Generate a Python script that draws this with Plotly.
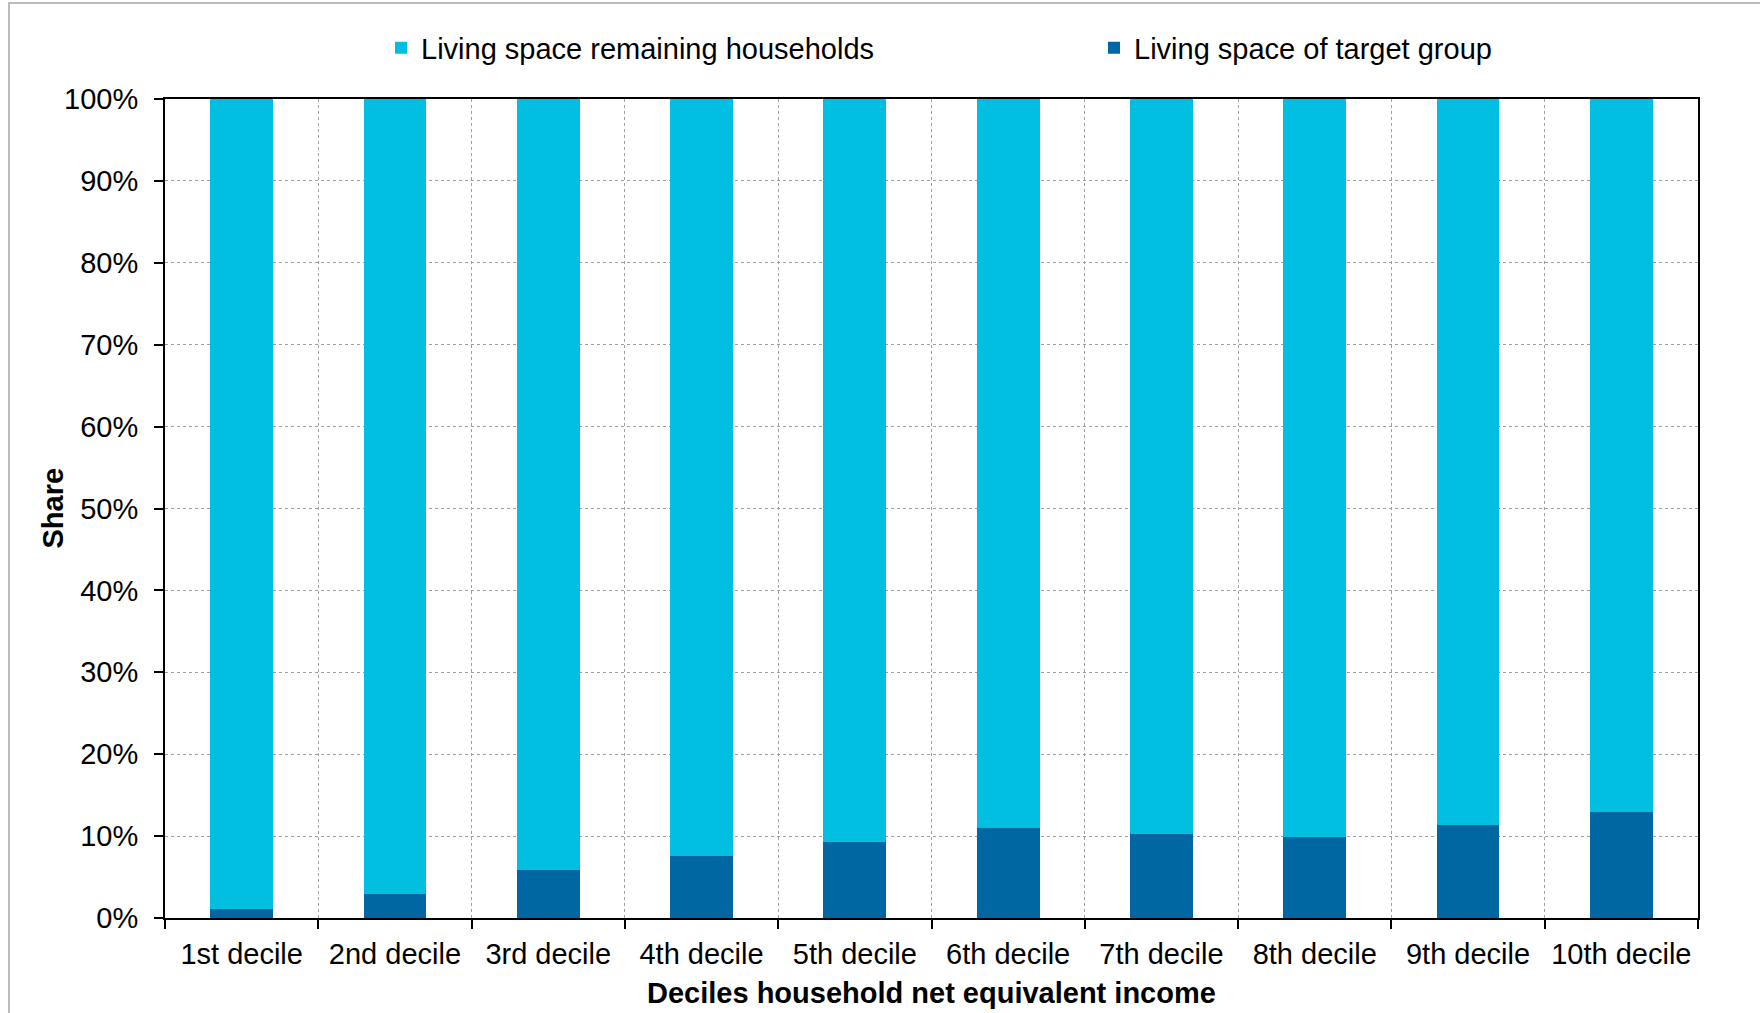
import plotly.graph_objects as go

deciles = ["1st decile", "2nd decile", "3rd decile", "4th decile", "5th decile",
           "6th decile", "7th decile", "8th decile", "9th decile", "10th decile"]
target_group = [1.1, 2.9, 5.9, 7.6, 9.3, 11.0, 10.3, 9.9, 11.4, 12.9]
remaining = [98.9, 97.1, 94.1, 92.4, 90.7, 89.0, 89.7, 90.1, 88.6, 87.1]
y_ticks = [0, 10, 20, 30, 40, 50, 60, 70, 80, 90, 100]
y_tick_labels = ["0%", "10%", "20%", "30%", "40%", "50%", "60%", "70%", "80%", "90%", "100%"]

FONT = "Liberation Sans, Arial, sans-serif"
LIGHT = "#00BFE1"
DARK = "#0067A3"

fig = go.Figure()
fig.add_trace(go.Bar(x=deciles, y=target_group, name="Living space of target group",
                     marker=dict(color=DARK, line=dict(width=0)), legend="legend2"))
fig.add_trace(go.Bar(x=deciles, y=remaining, name="Living space remaining households",
                     marker=dict(color=LIGHT, line=dict(width=0)), legend="legend"))

L, R, T, B = 165, 62, 99, 95
W, H = 1760, 1013
pw = W - L - R
ph = H - T - B

legend_common = dict(orientation="h", yanchor="middle", y=1 + (T - 48) / ph,
                     xanchor="left", font=dict(size=29), bgcolor="rgba(0,0,0,0)")

fig.update_layout(
    width=W, height=H,
    barmode="stack",
    bargap=0.59,
    plot_bgcolor="white",
    paper_bgcolor="white",
    margin=dict(l=L, r=R, t=T, b=B, autoexpand=False),
    font=dict(family=FONT, size=29, color="black"),
    legend=dict(x=(381 - L) / pw, **legend_common),
    legend2=dict(x=(1094 - L) / pw, **legend_common),
    showlegend=True,
)

fig.update_xaxes(
    type="category",
    tickson="boundaries",
    ticks="outside", ticklen=9, tickwidth=2, tickcolor="black",
    ticklabelstandoff=9,
    automargin=False,
    showline=True, linecolor="black", linewidth=2, mirror=True,
    showgrid=True, gridcolor="#A0A0A0", griddash="dot", gridwidth=1,
    tickfont=dict(size=29),
)
fig.update_yaxes(
    range=[0, 100],
    tickmode="array", tickvals=y_ticks, ticktext=y_tick_labels,
    ticks="outside", ticklen=9, tickwidth=2, tickcolor="black",
    ticklabelstandoff=10,
    automargin=False,
    showline=True, linecolor="black", linewidth=2, mirror=True,
    showgrid=True, gridcolor="#A0A0A0", griddash="dot", gridwidth=1,
    zeroline=False,
    tickfont=dict(size=29),
)

# axis titles placed precisely
fig.add_annotation(text="<b>Share</b>", textangle=-90, xref="paper", yref="paper",
                   x=(52 - L) / pw, y=0.5, xanchor="center", yanchor="middle",
                   showarrow=False, font=dict(size=29))
fig.add_annotation(text="<b>Deciles household net equivalent income</b>",
                   xref="paper", yref="paper",
                   x=(931 - L) / pw, y=(H - B - 993) / ph, xanchor="center", yanchor="middle",
                   showarrow=False, font=dict(size=29))

# outer chart frame
fig.add_shape(type="rect", xref="paper", yref="paper",
              x0=(9 - L) / pw, x1=(W + 10 - L) / pw,
              y0=(H - B - (H + 10)) / ph, y1=(H - B - 3) / ph,
              line=dict(color="#A6A6A6", width=1.5), fillcolor="rgba(0,0,0,0)",
              layer="below")

fig.write_html("out.html")
